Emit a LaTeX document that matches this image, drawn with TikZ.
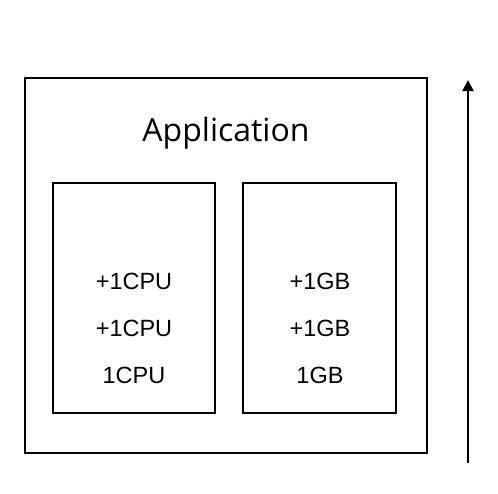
\documentclass[tikz,border=0pt]{standalone}
\usepackage{fontspec}
\setmainfont{Liberation Sans}
\newfontfamily\appfont{Open Sans}
\usetikzlibrary{arrows.meta}
\begin{document}
\begin{tikzpicture}[x=1pt,y=-1pt,
  box/.style={draw=black,line width=2pt},
  lbl/.style={anchor=base,inner sep=0pt,font=\fontsize{23.5}{28}\selectfont},
  title/.style={anchor=base,inner sep=0pt,font=\appfont\fontsize{32}{38}\selectfont}]
\useasboundingbox (0,0) rectangle (498,493);
\draw[box] (25,78) rectangle (427,453);
\draw[box] (53,183) rectangle (215,413);
\draw[box] (243,183) rectangle (396,413);
\node[title] (app) at (226,141) {Application};
\node[lbl] (c1) at (134,289) {+1CPU};
\node[lbl] (c2) at (134,336) {+1CPU};
\node[lbl] (c3) at (134,383) {1CPU};
\node[lbl] (g1) at (320,289) {+1GB};
\node[lbl] (g2) at (320,336) {+1GB};
\node[lbl] (g3) at (320,383) {1GB};
\coordinate (abot) at (468,463);
\coordinate (atop) at (468,80);
\draw[line width=2pt,-{Triangle[length=11pt,width=11pt]}] (abot) -- (atop);
\end{tikzpicture}
\end{document}
